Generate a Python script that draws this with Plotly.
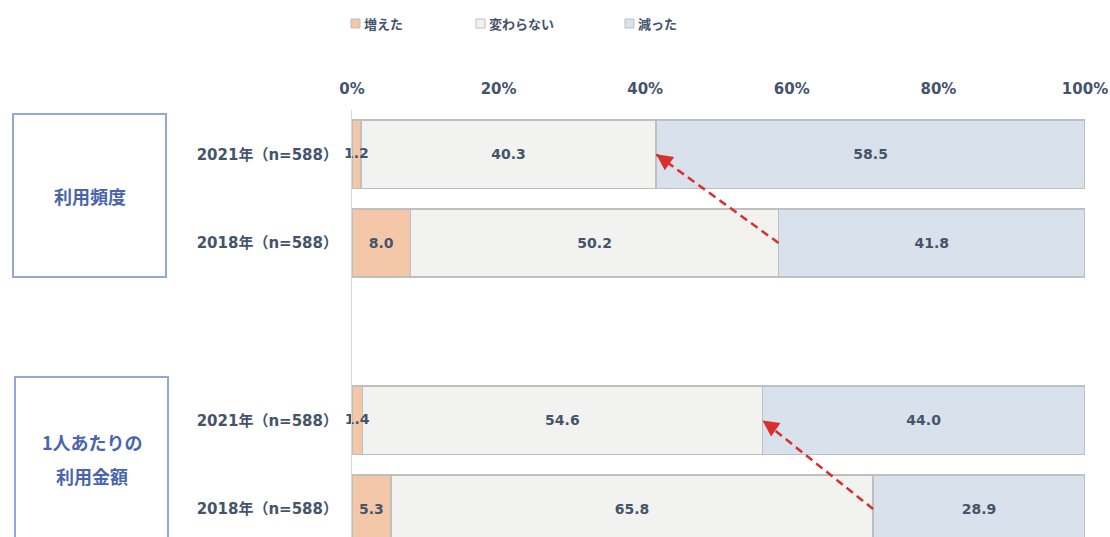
import plotly.graph_objects as go

# ---- data ----
row_labels = ["2021年（n=588）", "2018年（n=588）", "2021年（n=588）", "2018年（n=588）"]
row_pos = [0, 1, 3, 4]
series_names = ["増えた", "変わらない", "減った"]
increased = [1.2, 8.0, 1.4, 5.3]
unchanged = [40.3, 50.2, 54.6, 65.8]
decreased = [58.5, 41.8, 44.0, 28.9]
group_labels = ["利用頻度", "1人あたりの", "利用金額"]
x_ticks = [0, 20, 40, 60, 80, 100]

colors = ["#F4C7A9", "#F2F2F0", "#D9E1EC"]
TXT = "#44546A"
FONT = "DejaVu Sans, Noto Sans CJK JP, sans-serif"
SMALL = 3.0  # labels of narrower segments are drawn on top so they can overflow

W, H = 1110, 537
L, R, T, B = 352, 25, 110, 0
PW, PH = W - L - R, H - T - B


def px_x(px):
    return (px - L) / PW


def px_y(py):
    return 1 + (T - py) / PH


label_font = dict(family=FONT, size=14, color=TXT, weight="bold")

fig = go.Figure()
for name, vals, col in zip(series_names, [increased, unchanged, decreased], colors):
    fig.add_trace(go.Bar(
        y=row_pos, x=vals, name=name, orientation="h",
        marker=dict(color=col, line=dict(color="#BFBFBF", width=1.5)),
        width=0.77,
        text=[f"{v:.1f}" if v >= SMALL else "" for v in vals],
        textposition="inside", insidetextanchor="middle",
        constraintext="none", textangle=0,
        textfont=label_font,
        hoverinfo="skip", showlegend=False,
    ))

# overflowing labels for the tiny "増えた" segments
small_x = [v / 2 for v in increased if v < SMALL]
small_y = [p for v, p in zip(increased, row_pos) if v < SMALL]
small_t = [f"{v:.1f}" for v in increased if v < SMALL]
fig.add_trace(go.Scatter(x=small_x, y=small_y, text=small_t, mode="text",
                         textposition="middle center", textfont=label_font,
                         hoverinfo="skip", showlegend=False, cliponaxis=False))

# dashed red arrows from 2018 boundary to 2021 boundary
for a, b in [(0, 1), (2, 3)]:
    x_end = increased[a] + unchanged[a]
    x_start = increased[b] + unchanged[b]
    y_end, y_start = row_pos[a], row_pos[b]
    fig.add_shape(type="line", x0=x_start, y0=y_start, x1=x_end, y1=y_end,
                  xref="x", yref="y",
                  line=dict(color="#D9302C", width=2.5, dash="8px,5px"))
    fig.add_annotation(x=x_end, y=y_end, ax=x_end + 1.2, ay=y_end + 0.07,
                       axref="x", ayref="y", xref="x", yref="y",
                       text="", showarrow=True, arrowhead=2, arrowsize=1.3,
                       arrowwidth=2.5, arrowcolor="#D9302C")

# legend (drawn manually to match the compact layout)
leg_sq_x = [351, 476, 625]
leg_font = dict(family="Noto Sans CJK JP, sans-serif", size=13, color=TXT, weight="bold")
for name, col, sx in zip(series_names, colors, leg_sq_x):
    fig.add_shape(type="rect", xref="paper", yref="paper",
                  x0=px_x(sx), x1=px_x(sx + 9), y0=px_y(28), y1=px_y(19),
                  fillcolor=col, line=dict(color="#BFBFBF", width=1))
    fig.add_annotation(x=px_x(sx + 11), y=px_y(23.5), xref="paper", yref="paper",
                       text=name, showarrow=False, font=leg_font,
                       xanchor="left", yanchor="middle")

# group boxes on the left
box_col = "#95A6D8"
fig.add_shape(type="rect", xref="paper", yref="paper",
              x0=px_x(13), x1=px_x(166), y0=px_y(277), y1=px_y(114),
              line=dict(color=box_col, width=2), fillcolor="rgba(0,0,0,0)")
fig.add_shape(type="rect", xref="paper", yref="paper",
              x0=px_x(15), x1=px_x(168), y0=px_y(560), y1=px_y(377),
              line=dict(color=box_col, width=2), fillcolor="rgba(0,0,0,0)")
grp_font = dict(family="Noto Sans CJK JP, sans-serif", size=18, color="#4A64AD", weight="bold")
fig.add_annotation(x=px_x(89.5), y=px_y(196), xref="paper", yref="paper", text=group_labels[0],
                   showarrow=False, font=grp_font, xanchor="center", yanchor="middle")
fig.add_annotation(x=px_x(92), y=px_y(442), xref="paper", yref="paper", text=group_labels[1],
                   showarrow=False, font=grp_font, xanchor="center", yanchor="middle")
fig.add_annotation(x=px_x(92), y=px_y(476), xref="paper", yref="paper", text=group_labels[2],
                   showarrow=False, font=grp_font, xanchor="center", yanchor="middle")

fig.update_layout(
    width=W, height=H,
    margin=dict(l=L, r=R, t=T, b=B),
    barmode="stack",
    showlegend=False,
    plot_bgcolor="white", paper_bgcolor="white",
    font=dict(family=FONT, color=TXT),
    xaxis=dict(side="top", range=[0, 100], tickvals=x_ticks,
               ticktext=[f"{t}%" for t in x_ticks],
               showgrid=False, zeroline=False, showline=False,
               ticklabelstandoff=12,
               tickfont=dict(family=FONT, size=15, color=TXT, weight="bold"),
               fixedrange=True),
    yaxis=dict(range=[4.315, -0.5], tickvals=row_pos, ticktext=row_labels,
               showgrid=False, zeroline=False, showline=True, linecolor="#D9D9D9", linewidth=1,
               ticks="", ticklabelstandoff=10,
               tickfont=dict(family=FONT, size=15, color=TXT, weight="bold")),
)

fig.write_html("out.html")
